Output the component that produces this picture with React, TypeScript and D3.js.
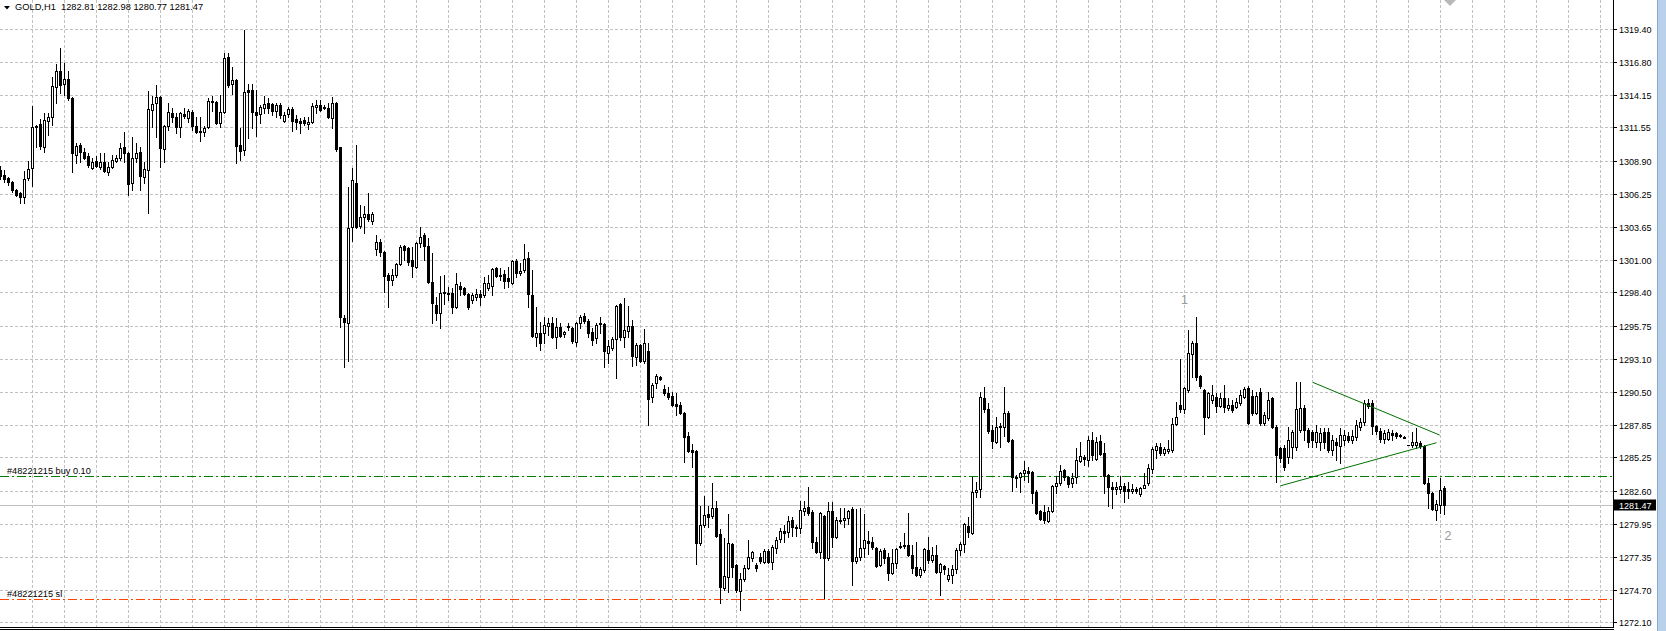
import React from 'react';
import * as d3 from 'd3';

const SYMBOL = 'GOLD,H1';

const OPEN = [
1308.16,1307.76,1307.52,1307.20,1306.56,1306.32,1306.00,1307.52,1308.32,1311.58,
1311.82,1309.99,1312.06,1312.38,1314.77,1316.05,1315.01,1315.41,1313.90,1309.35,
1310.15,1309.59,1309.27,1308.32,1308.88,1308.40,1308.80,1308.00,1308.40,1308.88,
1309.11,1309.99,1309.51,1307.12,1309.11,1309.59,1307.60,1308.16,1312.94,1313.50,
1313.98,1309.83,1311.66,1312.70,1312.38,1311.58,1312.62,1312.30,1312.78,1311.66,
1311.27,1311.19,1311.58,1313.58,1313.58,1311.90,1312.78,1317.17,1315.01,1315.33,
1310.15,1309.75,1314.53,1314.53,1312.78,1312.62,1313.10,1313.50,1313.42,1312.86,
1313.34,1312.06,1312.62,1313.02,1312.22,1312.06,1312.14,1311.82,1311.98,1313.18,
1313.34,1313.18,1313.10,1312.30,1313.50,1309.99,1296.36,1295.96,1303.61,1307.12,
1303.69,1304.41,1304.65,1304.09,1301.86,1302.42,1301.62,1299.78,1299.39,1299.78,
1300.66,1302.10,1301.94,1300.98,1300.42,1302.34,1302.97,1302.10,1299.23,1297.39,
1296.75,1298.35,1298.35,1298.35,1297.23,1298.91,1298.75,1298.27,1297.79,1298.03,
1298.27,1298.19,1298.75,1298.91,1300.34,1299.78,1299.86,1299.54,1299.15,1300.90,
1299.94,1300.18,1301.14,1298.19,1294.84,1295.16,1295.16,1295.72,1295.96,1294.84,
1295.64,1295.08,1295.64,1295.56,1294.44,1295.96,1296.52,1296.12,1295.24,1294.76,
1295.88,1295.88,1293.57,1293.96,1294.68,1297.47,1294.84,1295.32,1295.72,1293.25,
1294.20,1292.93,1293.73,1290.06,1291.17,1291.65,1290.69,1290.37,1290.14,1289.50,
1289.42,1288.78,1286.95,1285.83,1285.75,1278.42,1279.85,1280.73,1280.57,1281.21,
1279.14,1274.83,1275.71,1278.34,1276.66,1274.59,1275.55,1276.42,1277.22,1276.66,
1277.30,1276.90,1277.78,1276.90,1278.02,1278.74,1279.38,1279.30,1280.25,1279.69,
1279.61,1280.97,1281.29,1280.89,1278.50,1277.70,1280.57,1277.22,1280.97,1278.90,
1280.17,1280.25,1280.41,1281.13,1276.98,1277.30,1278.02,1278.58,1278.50,1278.02,
1276.66,1277.86,1277.30,1276.03,1276.82,1278.10,1278.18,1278.26,1277.46,1276.50,
1275.87,1276.26,1277.86,1277.06,1277.46,1276.11,1276.58,1275.55,1275.87,1276.34,
1277.86,1278.34,1279.77,1279.22,1282.49,1282.72,1289.98,1289.10,1287.43,1286.47,
1287.75,1287.67,1288.78,1286.63,1283.68,1283.68,1284.00,1284.16,1284.08,1282.49,
1280.97,1280.89,1280.17,1280.97,1282.96,1283.20,1284.24,1283.68,1283.20,1283.68,
1284.96,1285.28,1285.04,1286.63,1285.12,1286.55,1285.59,1283.84,1282.88,1282.72,
1282.72,1282.96,1282.72,1282.57,1282.72,1282.33,1282.80,1283.20,1284.32,1285.83,
1286.07,1285.59,1285.75,1285.83,1287.91,1289.42,1289.10,1290.61,1293.49,1294.36,
1291.73,1290.61,1288.46,1289.82,1290.06,1289.34,1289.98,1289.18,1289.42,1289.26,
1289.58,1290.06,1290.77,1290.14,1288.78,1290.45,1288.00,1288.38,1289.98,1287.67,
1285.99,1285.99,1285.28,1286.07,1286.07,1287.43,1289.18,1287.43,1287.27,1286.47,
1286.47,1287.27,1287.27,1285.83,1286.47,1286.15,1286.63,1286.95,1286.63,1286.87,
1287.67,1288.06,1289.58,1289.58,1287.75,1287.35,1286.71,1286.71,1287.19,1287.19,
1287.03,1286.87,1286.23,1286.23,1286.23,1286.39,1286.15,1283.20,1282.41,1281.05,
1281.45,1282.81];

const HIGH = [
1308.48,1308.16,1307.60,1307.28,1306.64,1306.40,1308.08,1308.88,1313.26,1311.74,
1312.22,1312.70,1312.70,1315.57,1316.61,1317.88,1316.69,1316.05,1313.98,1310.31,
1310.31,1309.91,1309.51,1309.11,1309.27,1309.51,1309.51,1308.80,1309.35,1309.35,
1310.31,1311.19,1309.59,1310.79,1310.31,1309.99,1308.80,1314.45,1314.06,1314.93,
1314.06,1311.74,1313.50,1313.10,1312.70,1312.78,1313.10,1313.02,1312.94,1312.38,
1312.38,1311.66,1313.90,1314.06,1313.66,1314.14,1317.48,1317.48,1316.37,1315.41,
1311.50,1319.32,1315.01,1315.01,1314.53,1313.34,1314.06,1313.90,1313.50,1313.50,
1313.50,1312.78,1313.18,1313.18,1312.54,1312.30,1312.38,1312.38,1313.50,1313.74,
1313.74,1313.34,1313.50,1313.98,1313.58,1309.99,1296.60,1306.80,1308.32,1310.15,
1305.37,1305.29,1306.32,1304.81,1302.97,1302.66,1301.70,1299.94,1300.26,1300.74,
1302.18,1302.18,1302.02,1302.02,1302.42,1303.61,1303.13,1302.74,1301.54,1298.03,
1299.70,1299.78,1298.83,1298.75,1299.94,1299.23,1298.83,1298.35,1298.35,1298.67,
1298.59,1299.62,1299.78,1300.34,1300.42,1300.34,1300.18,1300.42,1300.98,1301.06,
1300.74,1302.26,1301.62,1300.18,1297.23,1296.04,1296.44,1296.36,1296.44,1296.36,
1295.96,1295.32,1295.96,1295.64,1296.04,1296.60,1296.75,1296.28,1295.56,1295.96,
1296.44,1295.96,1294.60,1294.84,1297.39,1297.55,1297.95,1297.31,1296.20,1294.36,
1294.28,1295.48,1294.36,1291.17,1291.89,1291.73,1291.01,1290.85,1290.45,1290.37,
1289.66,1288.86,1287.27,1286.31,1285.83,1281.37,1282.17,1281.37,1283.20,1281.77,
1279.54,1278.82,1280.73,1278.42,1276.74,1276.03,1276.66,1278.66,1277.78,1276.82,
1277.62,1277.94,1277.94,1278.26,1278.90,1279.61,1279.85,1280.57,1280.49,1279.85,
1281.77,1281.77,1282.88,1281.05,1278.90,1280.89,1280.65,1281.69,1281.69,1280.49,
1281.21,1281.21,1281.05,1281.29,1281.13,1281.21,1280.73,1279.38,1278.90,1278.10,
1277.94,1278.02,1277.62,1277.94,1278.02,1278.50,1279.22,1280.81,1278.26,1278.50,
1276.50,1278.02,1278.90,1278.10,1278.26,1276.82,1276.66,1276.42,1276.66,1278.02,
1278.50,1280.01,1280.49,1283.68,1283.28,1290.45,1290.85,1289.58,1287.83,1288.46,
1287.99,1290.85,1288.94,1286.71,1283.84,1284.08,1284.96,1284.48,1284.16,1282.64,
1281.05,1281.45,1281.29,1283.04,1283.76,1284.64,1284.32,1283.76,1284.00,1285.99,
1286.47,1285.43,1286.95,1287.27,1286.87,1287.03,1286.39,1283.92,1283.28,1283.28,
1283.76,1283.20,1283.28,1283.12,1282.88,1282.88,1284.00,1284.72,1286.07,1286.39,
1286.39,1286.07,1286.63,1288.38,1289.66,1293.09,1290.85,1295.40,1294.52,1296.44,
1291.81,1290.69,1290.45,1291.01,1290.37,1290.37,1291.01,1289.98,1289.82,1289.98,
1290.61,1290.85,1290.93,1290.61,1290.45,1290.77,1288.86,1290.45,1290.06,1287.83,
1286.07,1286.23,1287.67,1287.43,1291.25,1291.25,1289.42,1287.59,1287.43,1287.83,
1287.59,1287.59,1287.59,1287.03,1286.79,1287.59,1287.43,1287.27,1287.43,1288.22,
1288.38,1289.82,1289.90,1289.82,1287.83,1287.59,1287.43,1287.51,1287.43,1287.27,
1287.11,1286.95,1286.23,1287.27,1287.59,1286.55,1286.23,1283.60,1282.49,1281.85,
1283.60,1282.98];

const LOW = [
1307.44,1307.20,1306.96,1306.40,1306.08,1305.52,1305.52,1307.36,1306.88,1309.99,
1309.83,1309.59,1310.95,1311.74,1313.50,1314.30,1314.14,1313.74,1308.00,1308.72,
1308.80,1309.04,1308.40,1308.24,1308.40,1308.24,1308.00,1307.76,1308.32,1308.80,
1308.96,1308.80,1306.16,1306.56,1308.80,1306.56,1307.12,1304.73,1311.58,1310.79,
1308.40,1308.80,1311.34,1311.98,1311.11,1310.79,1312.30,1311.98,1311.34,1311.11,
1310.47,1310.87,1311.50,1312.86,1311.82,1311.58,1312.70,1314.77,1314.22,1308.72,
1308.96,1309.35,1310.71,1311.50,1310.87,1311.90,1312.70,1312.70,1312.54,1312.38,
1312.30,1311.98,1312.38,1311.27,1311.42,1311.11,1311.74,1311.42,1311.90,1312.70,
1312.86,1313.02,1312.30,1311.50,1309.67,1295.64,1292.45,1292.93,1302.50,1303.53,
1303.53,1303.13,1304.09,1303.85,1301.38,1301.30,1298.43,1297.23,1298.99,1299.62,
1300.58,1300.98,1300.58,1299.62,1300.34,1302.02,1300.98,1299.15,1295.96,1296.20,
1295.56,1297.47,1297.79,1296.75,1297.15,1298.19,1298.19,1297.07,1297.55,1297.79,
1297.39,1298.03,1298.59,1298.19,1299.62,1299.39,1298.75,1298.83,1299.07,1299.62,
1299.78,1300.02,1297.23,1294.84,1294.12,1293.80,1294.36,1295.00,1294.76,1293.96,
1294.84,1294.84,1295.40,1294.36,1294.12,1295.56,1295.96,1294.84,1294.20,1294.36,
1295.16,1292.45,1292.77,1293.80,1291.57,1294.60,1294.04,1294.84,1292.53,1292.61,
1292.85,1292.77,1287.83,1289.66,1290.77,1291.41,1290.22,1289.90,1289.34,1288.62,
1288.70,1284.88,1285.67,1284.48,1276.74,1278.26,1279.69,1279.69,1280.41,1278.90,
1273.63,1274.67,1274.51,1275.71,1274.51,1273.08,1275.39,1276.34,1276.98,1276.18,
1276.82,1276.82,1276.82,1276.34,1277.62,1278.50,1278.50,1278.90,1278.98,1278.98,
1279.22,1280.65,1280.65,1278.02,1277.62,1277.22,1274.03,1277.06,1278.10,1278.82,
1280.01,1279.69,1279.93,1275.07,1276.82,1277.06,1277.30,1277.54,1277.94,1276.50,
1276.58,1276.82,1275.47,1275.95,1276.42,1278.02,1278.02,1277.38,1276.03,1275.79,
1275.71,1276.11,1276.82,1276.90,1276.03,1274.27,1275.95,1275.39,1275.23,1276.03,
1277.46,1277.70,1278.90,1279.14,1282.09,1282.09,1288.86,1287.19,1285.99,1286.39,
1286.07,1286.95,1286.47,1282.57,1282.88,1282.49,1283.44,1283.28,1281.61,1280.73,
1280.25,1280.01,1280.09,1280.89,1282.41,1283.04,1283.44,1282.88,1282.88,1283.20,
1284.88,1284.64,1284.56,1285.04,1285.04,1285.43,1282.41,1281.37,1281.21,1282.33,
1282.41,1281.69,1282.01,1282.41,1282.41,1282.17,1282.80,1283.04,1284.00,1285.20,
1285.43,1285.43,1285.59,1285.67,1287.83,1288.86,1288.78,1290.45,1291.65,1291.41,
1290.77,1287.11,1288.38,1289.58,1288.86,1289.26,1288.86,1289.02,1288.86,1289.18,
1289.42,1289.98,1287.91,1288.62,1288.70,1287.83,1287.83,1288.22,1287.59,1283.28,
1284.88,1284.24,1284.80,1285.20,1285.83,1287.27,1286.63,1286.07,1286.07,1286.07,
1285.83,1285.99,1285.67,1285.43,1285.04,1284.80,1286.23,1286.47,1286.39,1286.63,
1287.43,1287.83,1289.18,1287.11,1287.11,1286.47,1286.39,1286.63,1286.63,1286.79,
1286.87,1286.79,1286.23,1286.07,1285.99,1285.99,1283.12,1281.21,1281.05,1280.25,
1280.81,1280.77];

const CLOSE = [
1307.68,1307.44,1307.20,1306.56,1306.16,1306.00,1307.44,1308.24,1311.58,1311.66,
1310.07,1312.14,1312.38,1314.85,1316.05,1314.93,1315.41,1313.90,1309.51,1310.07,
1309.59,1309.11,1308.56,1308.80,1308.48,1308.80,1308.08,1308.40,1308.96,1309.11,
1309.91,1309.51,1307.04,1309.11,1309.51,1307.68,1308.24,1313.02,1313.42,1313.98,
1309.91,1311.66,1312.78,1312.38,1311.58,1312.70,1312.46,1312.86,1311.66,1311.19,
1311.19,1311.50,1313.66,1313.66,1311.90,1312.78,1317.09,1314.93,1315.33,1310.07,
1309.67,1314.38,1314.38,1312.78,1312.54,1313.18,1313.42,1313.10,1312.86,1313.34,
1312.54,1312.54,1313.02,1312.06,1311.98,1311.90,1311.90,1311.98,1313.26,1313.34,
1312.94,1313.10,1312.38,1313.50,1309.83,1296.44,1296.04,1303.53,1307.36,1303.61,
1304.41,1304.65,1304.25,1304.65,1302.42,1301.62,1299.70,1299.39,1299.78,1300.66,
1302.02,1301.78,1300.82,1300.50,1302.34,1302.81,1302.10,1299.23,1297.55,1296.75,
1298.35,1298.43,1298.27,1297.23,1299.07,1298.67,1298.27,1297.23,1298.19,1298.27,
1298.03,1299.15,1299.15,1300.26,1299.70,1299.70,1299.31,1299.31,1300.90,1299.94,
1300.10,1301.06,1298.27,1294.92,1295.16,1294.36,1295.80,1295.96,1294.84,1295.64,
1294.92,1295.24,1295.72,1294.52,1295.96,1296.44,1296.12,1295.16,1294.60,1295.80,
1295.96,1293.73,1294.12,1294.68,1297.31,1294.84,1295.40,1295.72,1293.33,1294.20,
1292.93,1294.36,1289.90,1291.01,1291.73,1291.49,1290.37,1290.06,1289.42,1289.34,
1288.78,1286.87,1285.75,1285.67,1278.42,1279.85,1280.65,1280.49,1281.21,1278.98,
1274.91,1275.79,1278.42,1276.50,1274.67,1275.55,1276.42,1277.30,1277.70,1276.42,
1276.98,1277.78,1276.90,1278.10,1278.66,1279.38,1279.22,1280.17,1279.69,1279.61,
1281.05,1281.21,1280.81,1278.50,1277.70,1280.81,1277.22,1280.97,1278.90,1280.25,
1280.25,1280.41,1280.97,1276.98,1277.30,1278.02,1278.66,1278.42,1278.10,1276.58,
1277.78,1277.22,1276.03,1276.82,1277.94,1278.18,1278.26,1277.46,1276.42,1275.87,
1276.34,1277.94,1277.06,1277.46,1276.11,1276.74,1276.34,1275.87,1276.34,1277.86,
1278.34,1279.93,1279.30,1282.49,1282.64,1290.06,1289.10,1287.35,1286.55,1287.67,
1287.67,1288.78,1286.55,1283.68,1283.60,1284.00,1284.24,1284.00,1282.41,1280.81,
1280.33,1280.25,1280.97,1282.96,1283.20,1284.16,1283.68,1283.12,1283.60,1285.04,
1285.36,1285.12,1286.63,1285.43,1286.47,1285.51,1283.76,1282.88,1282.72,1282.88,
1282.96,1282.57,1282.57,1282.72,1282.57,1282.80,1283.04,1284.40,1285.91,1286.15,
1285.59,1285.91,1285.91,1287.91,1288.46,1289.10,1290.77,1293.57,1294.36,1291.65,
1290.93,1288.46,1290.37,1290.22,1289.34,1289.98,1289.26,1289.42,1289.02,1289.66,
1290.22,1290.69,1288.00,1288.78,1290.14,1288.00,1288.62,1289.82,1287.67,1285.43,
1285.20,1284.48,1286.63,1287.27,1289.10,1289.18,1287.43,1286.47,1286.63,1287.27,
1287.19,1286.47,1285.83,1286.63,1286.23,1287.03,1287.03,1286.63,1286.95,1287.83,
1288.06,1289.58,1289.34,1287.75,1287.35,1286.71,1287.19,1287.27,1287.03,1286.95,
1286.95,1286.83,1286.23,1286.47,1286.47,1286.15,1283.20,1282.41,1281.13,1281.53,
1282.64,1281.47];

const PRICE_TICKS = [1319.40,1316.80,1314.15,1311.55,1308.90,1306.25,1303.65,1301.00,1298.40,
  1295.75,1293.10,1290.50,1287.85,1285.25,1282.60,1279.95,1277.35,1274.70,1272.10];

const BUY_PRICE = 1283.76;
const SL_PRICE = 1273.93;
const BUY_LABEL = '#48221215 buy 0.10';
const SL_LABEL = '#48221215 sl';
const TREND_UPPER: [number, number][] = [[328.1, 1291.23], [359.8, 1287.03]];
const TREND_LOWER: [number, number][] = [[320.0, 1282.99], [359.0, 1286.42]];
const WAVE_LABELS = [
  { bar: 296, price: 1297.47, text: '1' },
  { bar: 361.9, price: 1278.66, text: '2' },
];

const W = 1666, H = 631;
const AXIS_X = 1613;
const FONT = '"Liberation Sans", Arial, sans-serif';

export default function App() {
  const x = d3.scaleLinear().domain([0, 1]).range([0.5, 4.5]);
  const y = d3.scaleLinear().domain([1272.10, 1319.40]).range([622.4, 29]);
  const ry = (p: number) => Math.round(y(p));
  const n = CLOSE.length;
  const last = n - 1;

  const vgrid: number[] = [];
  for (let i = 8; x(i) < AXIS_X; i += 8) vgrid.push(x(i));

  const candles = CLOSE.map((c, i) => {
    const o = OPEN[i], h = HIGH[i], l = LOW[i];
    const cx = x(i);
    const yh = ry(h), yl = ry(l);
    const yo = ry(o), yc = ry(c);
    const top = Math.min(yo, yc), bot = Math.max(yo, yc);
    const bull = c > o;
    let body;
    if (bot === top) {
      body = <line x1={cx - 1.5} x2={cx + 1.5} y1={top + 0.5} y2={top + 0.5} stroke="#000" strokeWidth={1} />;
    } else if (bull) {
      body = <rect x={cx - 1} y={top + 0.5} width={2} height={bot - top} fill="#fff" stroke="#000" strokeWidth={1} />;
    } else {
      body = <rect x={cx - 1.5} y={top} width={3} height={bot - top + 1} fill="#000" />;
    }
    return (
      <g key={i}>
        <line x1={cx} x2={cx} y1={yh} y2={yl + 1} stroke="#000" strokeWidth={1} />
        {body}
      </g>
    );
  });

  const bidY = ry(CLOSE[last]) + 0.5;
  const buyY = ry(BUY_PRICE) + 0.5;
  const slY = ry(SL_PRICE) + 0.5;

  const line = d3.line<[number, number]>().x(d => x(d[0])).y(d => y(d[1]));

  return (
    <svg width={W} height={H} style={{ position: 'absolute', left: 0, top: 0, display: 'block', background: '#fff' }}
      fontFamily={FONT}>
      <rect x={0} y={0} width={W} height={H} fill="#fff" />
      {vgrid.map((gx, k) => (
        <line key={'v' + k} x1={gx} x2={gx} y1={0} y2={627} stroke="#c0c0c0" strokeDasharray="3,2" />
      ))}
      {PRICE_TICKS.map((p, k) => (
        <line key={'h' + k} x1={0} x2={AXIS_X} y1={ry(p) + 0.5} y2={ry(p) + 0.5} stroke="#c0c0c0" strokeDasharray="3,2" />
      ))}
      <line x1={0} x2={AXIS_X} y1={bidY} y2={bidY} stroke="#c0c0c0" />
      <line x1={0} x2={AXIS_X} y1={buyY} y2={buyY} stroke="#008000" strokeDasharray="9,3,2,3" />
      <line x1={0} x2={AXIS_X} y1={slY} y2={slY} stroke="#ff4500" strokeDasharray="9,3,2,3" />
      <text x={7} y={buyY - 2.5} fontSize={9.2} fill="#000">{BUY_LABEL}</text>
      <text x={7} y={slY - 2.5} fontSize={9.2} fill="#000">{SL_LABEL}</text>
      {candles}
      <path d={line(TREND_UPPER) || ''} stroke="#007000" fill="none" strokeWidth={1} />
      <path d={line(TREND_LOWER) || ''} stroke="#007000" fill="none" strokeWidth={1} />
      {WAVE_LABELS.map((w, k) => (
        <text key={'w' + k} x={x(w.bar)} y={y(w.price)} fontSize={12.5} fill="#9a9a9a" textAnchor="middle">{w.text}</text>
      ))}
      <polygon points="1444,0 1456,0 1450,6" fill="#b8b8b8" />
      <polygon points="4,6 10,6 7,9.5" fill="#000" />
      <text x={15} y={10} fontSize={9.3} fill="#000">
        {SYMBOL}{'\u00a0\u00a0'}{OPEN[last].toFixed(2)} {HIGH[last].toFixed(2)} {LOW[last].toFixed(2)} {CLOSE[last].toFixed(2)}
      </text>
      <rect x={AXIS_X + 1} y={0} width={W - AXIS_X - 1} height={H} fill="#fff" />
      <line x1={AXIS_X + 0.5} x2={AXIS_X + 0.5} y1={0} y2={628} stroke="#000" />
      {PRICE_TICKS.map((p, k) => (
        <g key={'t' + k}>
          <line x1={AXIS_X + 1} x2={AXIS_X + 4} y1={ry(p) + 0.5} y2={ry(p) + 0.5} stroke="#000" />
          <text x={1619} y={ry(p) + 3.5} fontSize={9} fill="#000">{p.toFixed(2)}</text>
        </g>
      ))}
      <rect x={AXIS_X + 1} y={bidY - 6} width={42} height={11} fill="#000" />
      <text x={1619} y={bidY + 3} fontSize={9} fill="#fff">{CLOSE[last].toFixed(2)}</text>
      <line x1={0} x2={AXIS_X + 1} y1={627.5} y2={627.5} stroke="#000" />
      <line x1={0} x2={AXIS_X + 1} y1={629.5} y2={629.5} stroke="#000" />
      <rect x={1657} y={0} width={9} height={H} fill="#b9d1ea" />
      <line x1={1657.5} x2={1657.5} y1={0} y2={H} stroke="#8fa9cc" />
    </svg>
  );
}
